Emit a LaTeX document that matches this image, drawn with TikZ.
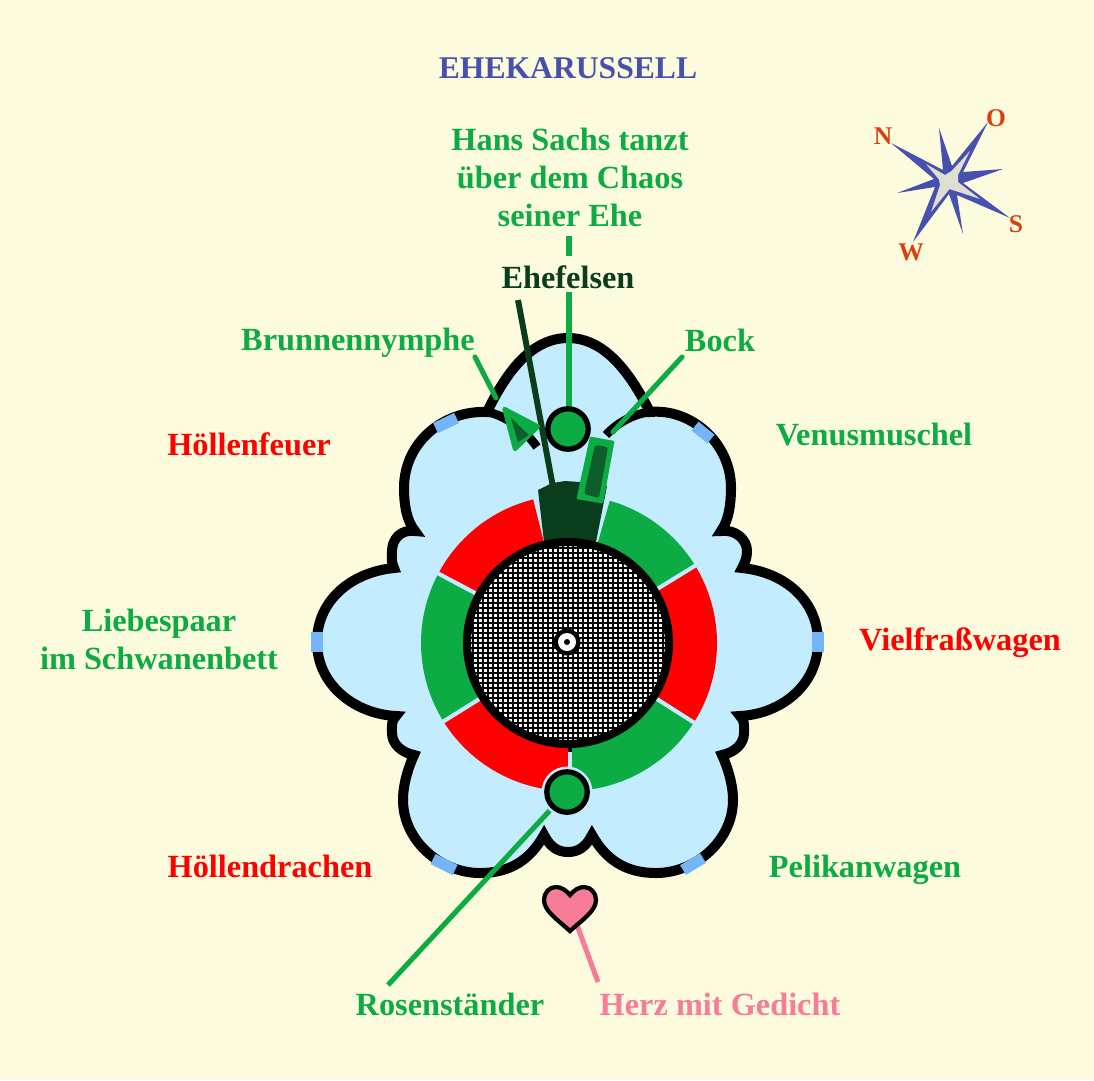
\documentclass[tikz,border=0pt]{standalone}
\usepackage{fontspec}
\setmainfont{Liberation Serif}[BoldFont={Liberation Serif Bold}]
\usetikzlibrary{calc}
\definecolor{bgc}{HTML}{FDFBDD}
\definecolor{lb}{HTML}{C4ECFF}
\definecolor{mb}{HTML}{74B5F7}
\definecolor{gr}{HTML}{0DAB43}
\definecolor{dg}{HTML}{0A3D1C}
\definecolor{mg}{HTML}{0D5E2B}
\definecolor{rd}{HTML}{FF0000}
\definecolor{pk}{HTML}{F67C97}
\definecolor{ti}{HTML}{4850AE}
\definecolor{cp}{HTML}{D9400F}
\definecolor{sf}{HTML}{DEDFD0}
\newcommand{\wedgeseg}[3]{\fill[#1] (569,643) -- plot[domain=#2:#3,samples=40] ({569+148*cos(\x)},{643-148*sin(\x)}) -- cycle;}
\tikzset{
 lab/.style={font=\fontsize{18.4}{21.6}\selectfont\bfseries,inner sep=0pt,align=center},
 blab/.style={lab,anchor=base},
 outl/.style={draw=black,line width=5.7pt,miter limit=20,line join=miter},
 bluemark/.style={draw=mb,line width=6.4pt},
 conn/.style={line width=2.9pt},
 spoke/.style={draw=lb,line width=2.3pt},
 hub/.style={draw=black,line width=3pt,fill=gr},
 cplab/.style={font=\fontsize{14.5}{16}\selectfont\bfseries,text=cp,inner sep=0pt},
}
\begin{document}
\begin{tikzpicture}[x=0.02cm,y=-0.02cm]
\useasboundingbox (0,0) rectangle (1094,1080);
\fill[bgc] (0,0) rectangle (1094,1080);
% outline
\path[outl,fill=lb] (568,338)
 .. controls (530,338) and (505,375) .. (487,412)
 .. controls (444,410) and (404,442) .. (404,488)
 .. controls (404,503) and (406,520) .. (415,531)
 .. controls (400,529) and (392,540) .. (392,551)
 .. controls (392,558) and (391,562) .. (394,568)
 .. controls (352,572) and (317,600) .. (317,642)
 .. controls (317,685) and (355,714) .. (396,716)
 .. controls (391,720) and (392,727) .. (392,733)
 .. controls (392,743) and (400,752) .. (414,755)
 .. controls (408,768) and (403,785) .. (403,800)
 .. controls (403,840) and (440,873) .. (480,873)
 .. controls (510,873) and (530,860) .. (544,835)
 .. controls (550,847) and (558,852) .. (568,852)
 .. controls (578,852) and (586,847) .. (592,835)
 .. controls (606,860) and (626,873) .. (656,873)
 .. controls (696,873) and (733,840) .. (733,800)
 .. controls (733,785) and (728,768) .. (722,755)
 .. controls (736,752) and (744,743) .. (744,733)
 .. controls (744,727) and (745,720) .. (740,716)
 .. controls (781,714) and (818,685) .. (818,642)
 .. controls (818,600) and (784,572) .. (742,568)
 .. controls (745,562) and (747,558) .. (747,551)
 .. controls (747,540) and (736,529) .. (721,531)
 .. controls (729,520) and (731,503) .. (731,488)
 .. controls (731,442) and (690,408) .. (650,412)
 .. controls (631,375) and (606,338) .. (568,338) -- cycle;
% inner lobe ends
\draw[line width=5pt] (487,412) .. controls (505,415) and (525,430) .. (537,447);
\draw[line width=5pt] (650,412) .. controls (632,414) and (616,424) .. (606,435);
% blue marks
\draw[bluemark] (317,632) -- (317,652);
\draw[bluemark] (818,632) -- (818,652);
\draw[bluemark] (435.5,428) -- (456.5,418);
\draw[bluemark] (695,426) -- (711,439);
\draw[bluemark] (433,859) -- (455,870);
\draw[bluemark] (683,870) -- (703,858);
% ring
\wedgeseg{rd}{104}{152}
\wedgeseg{gr}{152}{212}
\wedgeseg{rd}{212}{271}
\wedgeseg{gr}{271}{327.5}
\wedgeseg{rd}{327.5}{391.5}
\wedgeseg{gr}{31.5}{74}
\draw[spoke] (569,643) -- ++(131,-80.3);
\draw[spoke] (569,643) -- ++(-132,-70.2);
\draw[spoke] (569,643) -- ++(-131,81.8);
\draw[spoke] (569,643) -- ++(128,81.5);
\draw[spoke] (570,643) -- (570,792);
% rock
\fill[dg] (538,490) -- (552,483) -- (565,481) -- (580,482) -- (607,486) -- (596,542) -- (544,542) -- cycle;
% disc
\fill[white] (568,643) circle[radius=100];
\begin{scope}
\clip (568,643) circle[radius=100];
\foreach \k in {-21,...,21}{
 \draw[line width=1.2pt] (568+\k*5,535) -- (568+\k*5,750);
 \draw[line width=1.2pt] (455,643+\k*5) -- (680,643+\k*5);
}
\end{scope}
\draw[line width=4.6pt] (568,643) circle[radius=101];
\draw[line width=2.3pt] (570,745) -- (570,752);
\fill[black] (567,642) circle[radius=13.5];
\fill[white] (567,642) circle[radius=9];
\fill[black] (567,642) circle[radius=3];
% connectors
\coordinate (hsA) at (569,236); \coordinate (hsB) at (569,256);
\coordinate (efA) at (569,292); \coordinate (efB) at (569,410);
\coordinate (dkA) at (518,300); \coordinate (dkB) at (553,487);
\coordinate (bnA) at (475,357); \coordinate (bnB) at (496,398);
\coordinate (bkA) at (682,357); \coordinate (bkB) at (613,432);
\coordinate (roA) at (388,985); \coordinate (roB) at (553,807);
\coordinate (heA) at (598,982); \coordinate (heB) at (577,925);
\draw[conn,gr] (hsA) -- (hsB);
\draw[conn,gr] (efA) -- (efB);
\draw[conn,dg,line width=3.4pt] (dkA) -- (dkB);
\draw[conn,gr,line cap=round] (bnA) -- (bnB);
\draw[conn,gr,line cap=round] (bkA) -- (bkB);
\draw[conn,gr] (roA) -- (roB);
\draw[conn,pk] (heA) -- (heB);
% hubs
\fill[lb] (567,792) circle[radius=25.5];
\node[hub,circle,minimum size=23pt,inner sep=0pt] (rosen) at (567,792) {};
\node[hub,circle,minimum size=23pt,inner sep=0pt] (sachs) at (568,429) {};
% Brunnennymphe
\fill[gr,draw=gr,line width=2.5pt,line join=round] (504.5,409) -- (538,426.5) -- (515,449) -- cycle;
\fill[mg] (511,418) -- (529,435) -- (518,442) -- cycle;
% Bock
\fill[gr,draw=gr,line width=1.5pt,line join=round] (591,438) -- (613,442) -- (602,502) -- (578,498) -- cycle;
\fill[mg,rounded corners=1.5pt] (595,445) -- (608,447) -- (599,498) -- (584,494) -- cycle;
% heart
\path[draw=black,line width=2.4pt,fill=pk,line join=miter] (570,895)
 .. controls (566,890) and (561,887) .. (556,887)
 .. controls (549,887) and (544,893) .. (544,900)
 .. controls (544,911) and (558,920) .. (570,931)
 .. controls (582,920) and (596,911) .. (596,900)
 .. controls (596,893) and (591,887) .. (584,887)
 .. controls (579,887) and (574,890) .. (570,895) -- cycle;
% compass
\fill[ti] (891,143) -- (943,170) -- (939,128) -- (952,166) -- (988,122) -- (963,172) -- (1003,169) -- (963,183)
 -- (1010,218) -- (957,195) -- (963,234) -- (949,194) -- (913,242) -- (935,187) -- (897,193) -- (934,179) -- cycle;
\fill[sf] (926,164) -- (945,175) -- (951.5,171) -- (970,151) -- (958,175) -- (958,182)
 -- (980,199) -- (954,190.5) -- (949.5,189) -- (931,212) -- (940,185) -- (939,179.5) -- cycle;
% labels
\node[lab,ti,font=\fontsize{18}{21.6}\selectfont\bfseries,anchor=base] (title) at (568,78) {EHEKARUSSELL};
\node[lab,gr] (hans) at (570,177) {Hans Sachs tanzt\\über dem Chaos\\seiner Ehe};
\node[blab,dg] (fels) at (568,288) {Ehefelsen};
\node[blab,gr] (brunn) at (358,350) {Brunnennymphe};
\node[blab,gr] (bock) at (720,351) {Bock};
\node[blab,rd] (hfeuer) at (249,455) {Höllenfeuer};
\node[blab,gr] (venus) at (874,445) {Venusmuschel};
\node[lab,gr] (liebe) at (159,639) {Liebespaar\\im Schwanenbett};
\node[blab,rd] (viel) at (960,650) {Vielfraßwagen};
\node[blab,rd] (hdra) at (270,877) {Höllendrachen};
\node[blab,gr] (peli) at (865,877) {Pelikanwagen};
\node[blab,gr] (rosl) at (450,1015) {Rosenständer};
\node[blab,pk] (herz) at (720,1015) {Herz mit Gedicht};
\node[cplab] (cN) at (883,136) {N};
\node[cplab] (cO) at (996,118) {O};
\node[cplab] (cS) at (1016,224) {S};
\node[cplab] (cW) at (911,252) {W};
\end{tikzpicture}
\end{document}
